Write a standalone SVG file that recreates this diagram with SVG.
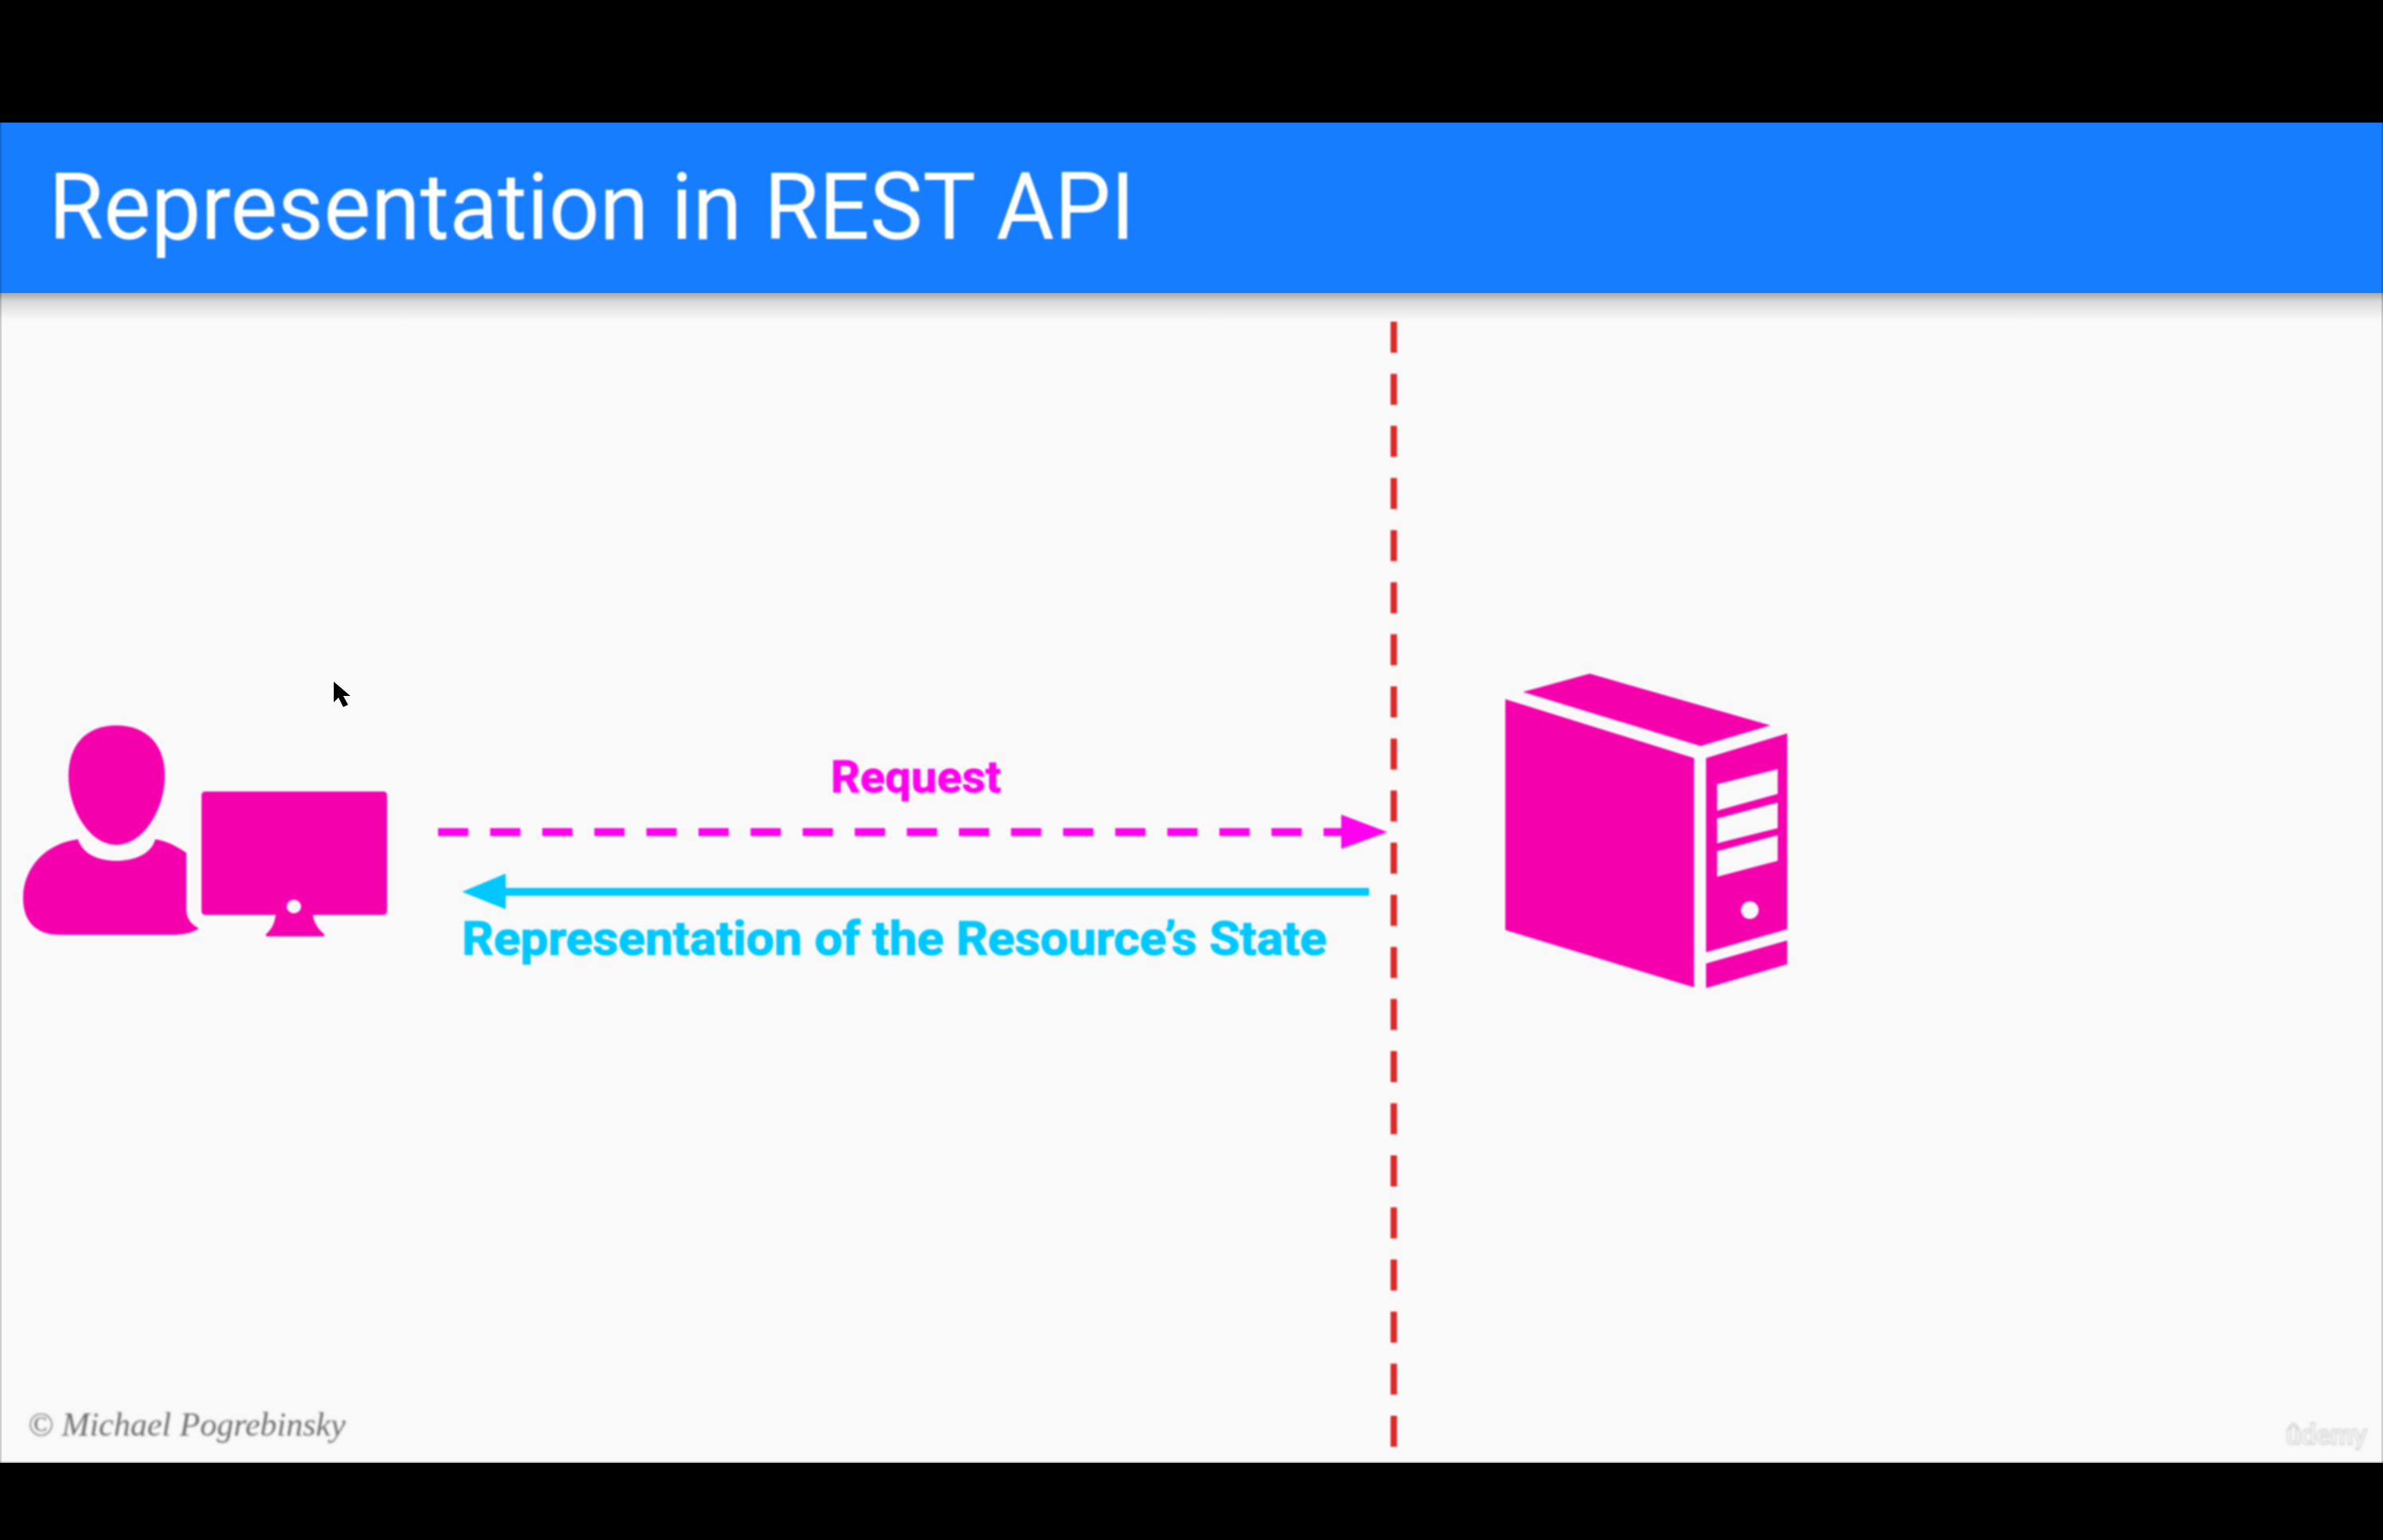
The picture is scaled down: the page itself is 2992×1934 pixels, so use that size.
<svg xmlns="http://www.w3.org/2000/svg" width="2992" height="1934" viewBox="0 0 2992 1934">
<style>
.icon{fill:#f500ad}
text{font-family:Roboto,"Liberation Sans",sans-serif}
.title{font-size:117px;fill:#fff}
.req{font-size:56px;font-weight:700;fill:#ff00ee;stroke:#ff00ee;stroke-width:.8px}
.rep{font-size:60px;font-weight:700;fill:#00c8ff;stroke:#00c8ff;stroke-width:1.2px}
.credit{font-family:"Liberation Serif",serif;font-style:italic;font-size:42px;fill:#707070}
.mark{font-family:Lato,"Liberation Sans",sans-serif;font-weight:700;font-size:36px;fill:#fbfbfb;stroke:#cecece;stroke-width:1.5px}
</style>
<defs>
<linearGradient id="shadow" x1="0" y1="0" x2="0" y2="1">
<stop offset="0" stop-color="#a8a8a8"/><stop offset="0.3" stop-color="#d8d8d8"/><stop offset="1" stop-color="#f9f9f9"/>
</linearGradient>
<filter id="soft" x="-5%" y="-20%" width="110%" height="140%"><feGaussianBlur stdDeviation="1.2"/></filter>
<filter id="softer" x="-5%" y="-20%" width="110%" height="140%"><feGaussianBlur stdDeviation="1.8"/></filter>
</defs>
<rect id="frame" width="2992" height="1934" fill="#000"/>
<rect id="content" x="0" y="154" width="2992" height="1683" fill="#f9f9f9"/>
<rect x="0" y="1835" width="2992" height="2" fill="#d8d8d8"/>
<rect x="0" y="368" width="2992" height="34" fill="url(#shadow)"/>
<g id="header">
<rect x="0" y="154" width="2992" height="214" fill="#177dff"/>
<text class="title" x="61" y="300" textLength="1364" lengthAdjust="spacingAndGlyphs" filter="url(#soft)">Representation in REST API</text>
</g>
<rect x="0" y="154" width="2" height="1683" fill="#000" opacity=".18"/>
<rect x="2990" y="154" width="2" height="1683" fill="#000" opacity=".18"/>
<g id="client" filter="url(#soft)" transform="translate(0 1)">
<g id="person">
<path class="icon" d="M146 910C185 910 207 935 207 973C207 1015 180 1060 146 1060C112 1060 86 1015 86 973C86 935 108 910 146 910Z"/>
<path class="icon" d="M98 1053C104 1071 122 1080 146 1080C170 1080 190 1071 195 1053C210 1055 222 1062 234 1070L234 1143C235 1153 240 1160 250 1165C240 1171 230 1173 215 1173L75 1173C45 1173 29 1156 29 1127C29 1088 58 1058 98 1053Z"/>
</g>
<g id="monitor">
<path class="icon" fill-rule="evenodd" d="M258 993H481Q486 993 486 998V1143Q486 1148 481 1148H393C394 1158 400 1166 407 1172V1175H334V1172C341 1166 345 1158 346 1148H258Q253 1148 253 1143V998Q253 993 258 993ZM369 1129A9 8.500 0 1 0 369 1146A9 8.500 0 1 0 369 1129Z"/>
</g>
</g>
<g id="server" filter="url(#soft)" transform="translate(0 2)">
<polygon class="icon" points="1912,867 1996,844 2223,909 2135,935"/>
<polygon class="icon" points="1890,876 2127,950 2127,1238 1890,1166"/>
<path class="icon" fill-rule="evenodd" d="M2142 950L2244 919V1165L2142 1194ZM2156 983V1016L2232 995V964ZM2156 1026V1057L2232 1038V1006ZM2156 1067V1099L2232 1079V1047ZM2197 1130A11 11 0 1 0 2197 1152A11 11 0 1 0 2197 1130Z"/>
<polygon class="icon" points="2142,1208 2244,1179 2244,1209 2142,1239"/>
</g>
<g id="connectors" filter="url(#soft)">
<line id="boundary" x1="1750" y1="404" x2="1750" y2="1817" stroke="#dc2a2a" stroke-width="8" stroke-dasharray="39 26.43"/>
<g id="request-arrow">
<line x1="550" y1="1045" x2="1690" y2="1045" stroke="#ff00ee" stroke-width="10" stroke-dasharray="38 27.4"/>
<polygon points="1684,1023 1742,1045 1684,1066" fill="#ff00ee"/>
</g>
<g id="response-arrow">
<line x1="1719" y1="1120" x2="630" y2="1120" stroke="#00c8ff" stroke-width="10"/>
<polygon points="635,1097 580,1120 635,1142" fill="#00c8ff"/>
</g>
</g>
<g id="labels" filter="url(#soft)">
<text class="req" x="1043" y="995" textLength="214" lengthAdjust="spacingAndGlyphs">Request</text>
<text class="rep" x="580" y="1199" textLength="1086" lengthAdjust="spacingAndGlyphs">Representation of the Resource’s State</text>
</g>
<text class="credit" x="35" y="1803" filter="url(#softer)">© Michael Pogrebinsky</text>
<text class="mark" x="2870" y="1814" textLength="102" lengthAdjust="spacingAndGlyphs" filter="url(#softer)">ûdemy</text>
<g id="cursor">
<path d="M419 856V882L425 876L431 888L437 885L431 874H440Z" fill="#000" stroke="#fff" stroke-width="3" stroke-linejoin="round" paint-order="stroke"/>
</g>
</svg>
